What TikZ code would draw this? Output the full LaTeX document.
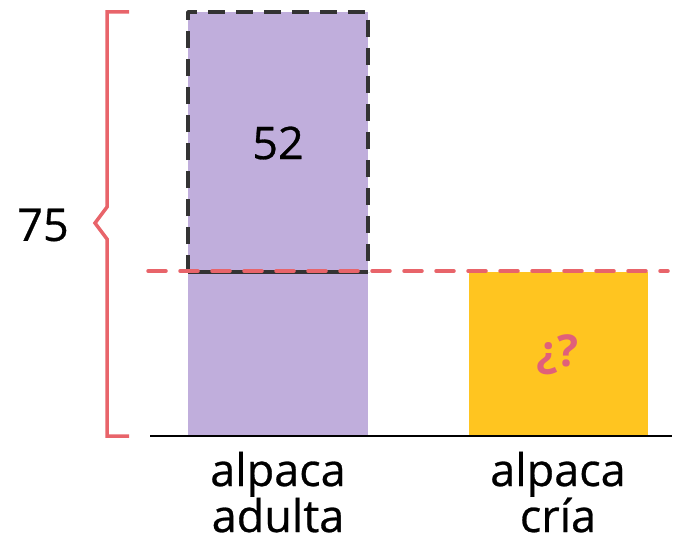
\documentclass[tikz,border=0pt]{standalone}
\usepackage{fontspec}
\setmainfont{Open Sans}
\newfontfamily\medfont{Open Sans}[FakeBold=0.6]
\definecolor{lav}{HTML}{C0AEDC}
\definecolor{gold}{HTML}{FFC520}
\definecolor{coral}{HTML}{E8646A}
\definecolor{pinkq}{HTML}{E0607A}
\definecolor{dk}{HTML}{333333}
\begin{document}
\begin{tikzpicture}[x=1pt,y=-1pt,
  lbl/.style={font=\medfont\fontsize{45}{47}\selectfont, inner sep=0pt, anchor=base},
  num/.style={font=\medfont\fontsize{45}{48}\selectfont, inner sep=0pt}]
\useasboundingbox (0,0) rectangle (674,543);
% bars
\fill[lav] (188,12) rectangle (368,436);
\fill[gold] (469,272) rectangle (648,436);
% dashed box
\draw[dk, line width=3.5pt, dash pattern=on 17pt off 11pt, line join=round] (188,272) -- (188,12) -- (368,12) -- (368,272);
\draw[dk, line width=3.5pt] (188,272) -- (368,272);
% red dashed line
\coordinate (dl) at (148,271);
\coordinate (dr) at (668,271);
\draw[coral, line width=3.5pt, dash pattern=on 18pt off 14pt, line cap=round] (dl) -- (dr);
% baseline
\coordinate (bl) at (150,436);
\coordinate (br) at (672,436);
\draw[black, line width=2pt] (bl) -- (br);
% brace
\draw[coral, line width=3.5pt] (129,12) -- (107,12) -- (107,207) -- (95,223) -- (107,239) -- (107,436) -- (129,436);
% texts
\node[num] (n75) at (43,225) {75};
\node[num] (n52) at (278,143) {52};
\node[num, text=pinkq, font=\bfseries\fontsize{44}{48}\selectfont] (q) at (557,355) {¿?};
\node[lbl] (l1a) at (278,486) {alpaca};
\node[lbl] (l1b) at (278,532) {adulta};
\node[lbl] (l2a) at (558,486) {alpaca};
\node[lbl] (l2b) at (558,532) {cría};
\end{tikzpicture}
\end{document}
